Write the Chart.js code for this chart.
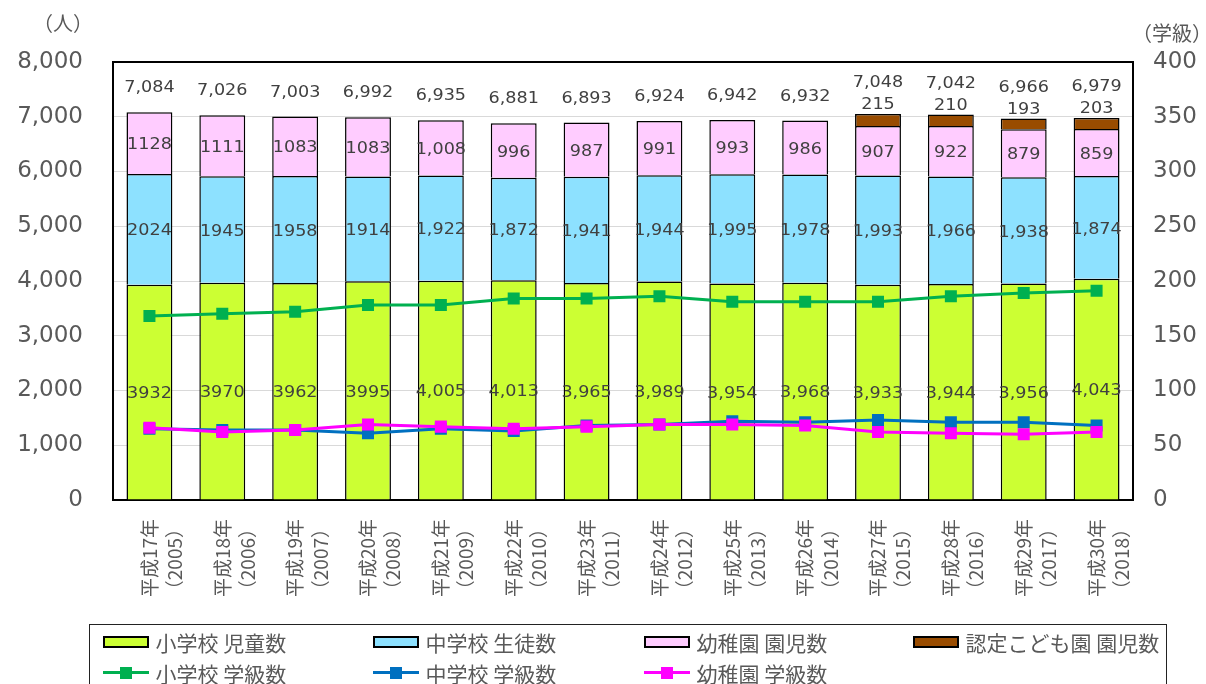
<!DOCTYPE html>
<html lang="ja">
<head>
<meta charset="utf-8">
<title>児童・生徒・園児数と学級数の推移</title>
<script src="https://cdn.jsdelivr.net/npm/chart.js@4.4.1/dist/chart.umd.min.js"></script>
<style>
  html, body { margin: 0; padding: 0; background: #fff; overflow: hidden; }
  #wrap { position: relative; width: 1206px; height: 684px; }
  #chart { position: absolute; left: 0; top: 0; }
  .unit { position: absolute; font-family: "Noto Sans CJK JP", sans-serif; font-size: 20px; color: #595959; line-height: 1; white-space: nowrap; }
  #legend { position: absolute; left: 89px; top: 624px; width: 1078px; height: 90px; border: 1.5px solid #222; box-sizing: border-box; }
  .item { position: absolute; height: 30px; display: flex; align-items: center; font-family: "Noto Sans CJK JP", sans-serif; font-size: 21px; color: #595959; white-space: nowrap; }
  .swatch { position: relative; width: 46px; height: 12px; margin-right: 7px; flex: none; box-sizing: border-box; }
  .swatch.box { border: 2px solid #000; }
  .swatch .ln { position: absolute; left: 0; right: 0; top: 4.5px; height: 3px; }
  .swatch .pt { position: absolute; left: 17px; top: 0; width: 12px; height: 12px; }
</style>
</head>
<body>
<div id="wrap">
  <canvas id="chart" width="1206" height="684"></canvas>
  <div class="unit" style="left:33px; top:13px;">（人）</div>
  <div class="unit" style="left:1132px; top:23px;">（学級）</div>
  <div id="legend"></div>
</div>
<script>
// 年度（和暦・西暦）
const heiseiYears = ['平成17年', '平成18年', '平成19年', '平成20年', '平成21年', '平成22年', '平成23年',
                     '平成24年', '平成25年', '平成26年', '平成27年', '平成28年', '平成29年', '平成30年'];
const westernYears = ['（2005）', '（2006）', '（2007）', '（2008）', '（2009）', '（2010）', '（2011）',
                      '（2012）', '（2013）', '（2014）', '（2015）', '（2016）', '（2017）', '（2018）'];

// 在籍者数（人）
const elementaryPupils     = [3932, 3970, 3962, 3995, 4005, 4013, 3965, 3989, 3954, 3968, 3933, 3944, 3956, 4043];
const juniorHighStudents   = [2024, 1945, 1958, 1914, 1922, 1872, 1941, 1944, 1995, 1978, 1993, 1966, 1938, 1874];
const kindergartenChildren = [1128, 1111, 1083, 1083, 1008, 996, 987, 991, 993, 986, 907, 922, 879, 859];
const certifiedChildren    = [null, null, null, null, null, null, null, null, null, null, 215, 210, 193, 203];

// 学級数
const elementaryClasses   = [168, 170, 172, 178, 178, 184, 184, 186, 181, 181, 181, 186, 189, 191];
const juniorHighClasses   = [65, 64, 64, 61, 65, 63, 68, 69, 72, 71, 73, 71, 71, 68];
const kindergartenClasses = [66, 62, 64, 69, 67, 65, 67, 69, 69, 68, 62, 61, 60, 62];

// 軸目盛
const peopleTicks = [0, 1000, 2000, 3000, 4000, 5000, 6000, 7000, 8000];
const classTicks  = [0, 50, 100, 150, 200, 250, 300, 350, 400];

const categories = heiseiYears.map((h, i) => [h, westernYears[i]]);

const withComma = v => v.toLocaleString('en-US');
// 平成20年までの内訳は桁区切りなしで表記
const segmentText = (v, i) => (i < 4 ? String(v) : withComma(v));

function wideText(ctx, text, x, y) {
  ctx.save();
  ctx.translate(x, y);
  ctx.scale(1.1, 1);
  ctx.fillText(text, 0, 0);
  ctx.restore();
}

// プロットエリアの枠線
const plotFrame = {
  id: 'plotFrame',
  beforeDatasetsDraw(chart) {
    const { ctx, chartArea: a } = chart;
    ctx.save();
    ctx.strokeStyle = '#000';
    ctx.lineWidth = 2;
    ctx.strokeRect(a.left, a.top, a.right - a.left, a.bottom - a.top);
    ctx.restore();
  }
};

// 棒グラフの内訳・合計ラベル
const barLabels = {
  id: 'barLabels',
  afterDatasetsDraw(chart) {
    const ctx = chart.ctx;
    const barMetas = chart.getSortedVisibleDatasetMetas().filter(m => m.type === 'bar');
    ctx.save();
    ctx.font = '16px "DejaVu Sans"';
    ctx.fillStyle = '#404040';
    ctx.textAlign = 'center';
    ctx.textBaseline = 'middle';
    categories.forEach((_, i) => {
      let total = 0;
      let topY = Infinity;
      let x = 0;
      let certified = null;
      barMetas.forEach(meta => {
        const ds = chart.data.datasets[meta.index];
        const v = ds.data[i];
        if (v === null || v === undefined) return;
        const el = meta.data[i];
        total += v;
        x = el.x;
        topY = Math.min(topY, el.y);
        if (ds.isCertified) {
          certified = v;
        } else {
          wideText(ctx, segmentText(v, i), el.x, (el.y + el.base) / 2 + 2);
        }
      });
      if (certified !== null) {
        wideText(ctx, String(certified), x, topY - 9);
        wideText(ctx, withComma(total), x, topY - 31);
      } else {
        wideText(ctx, withComma(total), x, topY - 24);
      }
    });
    ctx.restore();
  }
};

const barStyle = {
  type: 'bar',
  yAxisID: 'y',
  borderColor: '#000',
  borderWidth: 1.5,
  barPercentage: 1,
  categoryPercentage: 0.63,
  order: 10
};
const lineStyle = {
  type: 'line',
  yAxisID: 'y1',
  borderWidth: 3,
  pointStyle: 'rect',
  pointRadius: 8.5,
  pointBorderWidth: 0,
  tension: 0
};

const tickFont = { family: '"DejaVu Sans"', size: 23 };

const chart = new Chart(document.getElementById('chart'), {
  data: {
    labels: categories,
    datasets: [
      { ...barStyle, label: '小学校 児童数', data: elementaryPupils, backgroundColor: '#CCFF33' },
      { ...barStyle, label: '中学校 生徒数', data: juniorHighStudents, backgroundColor: '#8DE1FF' },
      { ...barStyle, label: '幼稚園 園児数', data: kindergartenChildren, backgroundColor: '#FFCCFF' },
      { ...barStyle, label: '認定こども園 園児数', data: certifiedChildren, backgroundColor: '#994C00', isCertified: true },
      { ...lineStyle, label: '小学校 学級数', data: elementaryClasses, borderColor: '#00B050', backgroundColor: '#00B050', order: 3 },
      { ...lineStyle, label: '中学校 学級数', data: juniorHighClasses, borderColor: '#0070C0', backgroundColor: '#0070C0', order: 2 },
      { ...lineStyle, label: '幼稚園 学級数', data: kindergartenClasses, borderColor: '#FF00FF', backgroundColor: '#FF00FF', order: 1 }
    ]
  },
  options: {
    responsive: false,
    animation: false,
    devicePixelRatio: 1,
    layout: { padding: { top: 62, left: 0, right: 0, bottom: 0 } },
    plugins: { legend: { display: false }, tooltip: { enabled: false } },
    scales: {
      x: {
        stacked: true,
        grid: { display: false, drawTicks: false },
        border: { display: false },
        ticks: {
          autoSkip: false, minRotation: 90, maxRotation: 90, padding: 19,
          color: '#595959',
          font: { family: '"Noto Sans CJK JP"', size: 19, lineHeight: 1.33 }
        },
        afterFit(scale) { scale.height = 184; }
      },
      y: {
        stacked: true,
        position: 'left',
        min: peopleTicks[0],
        max: peopleTicks[peopleTicks.length - 1],
        afterBuildTicks(scale) { scale.ticks = peopleTicks.map(v => ({ value: v })); },
        grid: { color: '#D9D9D9', lineWidth: 1, drawTicks: false },
        border: { display: false },
        ticks: { padding: 30, color: '#595959', font: tickFont, callback: v => withComma(v) },
        afterFit(scale) { scale.width = 113; }
      },
      y1: {
        position: 'right',
        min: classTicks[0],
        max: classTicks[classTicks.length - 1],
        afterBuildTicks(scale) { scale.ticks = classTicks.map(v => ({ value: v })); },
        grid: { display: false, drawTicks: false },
        border: { display: false },
        ticks: { padding: 20, color: '#595959', font: tickFont },
        afterFit(scale) { scale.width = 73; }
      }
    }
  },
  plugins: [plotFrame, barLabels]
});

// 凡例（棒系列を1段目、折れ線系列を2段目に配置）
(function buildLegend() {
  const legend = document.getElementById('legend');
  const columns = [103, 373, 644, 913];
  const rows = [642, 673];
  const bars = chart.data.datasets.filter(d => d.type === 'bar');
  const lines = chart.data.datasets.filter(d => d.type === 'line');
  [bars, lines].forEach((group, r) => {
    group.forEach((ds, c) => {
      const item = document.createElement('div');
      item.className = 'item';
      item.style.left = (columns[c] - 89 - 1.5) + 'px';
      item.style.top = (rows[r] - 624 - 1.5 - 15) + 'px';
      const sw = document.createElement('span');
      if (ds.type === 'bar') {
        sw.className = 'swatch box';
        sw.style.background = ds.backgroundColor;
      } else {
        sw.className = 'swatch';
        const ln = document.createElement('span');
        ln.className = 'ln';
        ln.style.background = ds.borderColor;
        const pt = document.createElement('span');
        pt.className = 'pt';
        pt.style.background = ds.borderColor;
        sw.appendChild(ln);
        sw.appendChild(pt);
      }
      const tx = document.createElement('span');
      tx.textContent = ds.label;
      item.appendChild(sw);
      item.appendChild(tx);
      legend.appendChild(item);
    });
  });
})();
</script>
</body>
</html>
